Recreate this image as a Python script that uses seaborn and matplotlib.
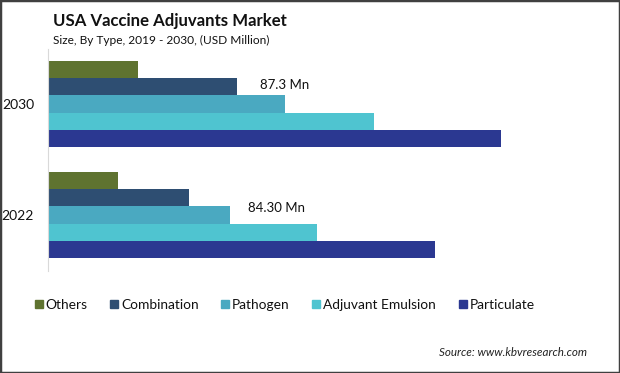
import pandas as pd
import seaborn as sns
import matplotlib.pyplot as plt
from matplotlib.patches import Rectangle

sns.set_theme(style='white')
plt.rcParams['font.family'] = ['Lato', 'DejaVu Sans']

years = ['2030', '2022']
types = ['Others', 'Combination', 'Pathogen', 'Adjuvant Emulsion', 'Particulate']
values_2030 = [41.6, 87.3, 109.5, 151.0, 209.7]
values_2022 = [32.3, 65.1, 84.3, 124.4, 179.2]
colors = ['#5f7330', '#2e4e72', '#4aa9c1', '#4fc4d0', '#2b3891']
labels = {'2030': '87.3 Mn', '2022': '84.30 Mn'}

df = pd.DataFrame({
    'year': [y for y in years for _ in types],
    'type': types * 2,
    'value': values_2030 + values_2022,
})

fig = plt.figure(figsize=(6.2, 3.73), dpi=100)
ax = fig.add_axes([48 / 620, 102.5 / 373, 562 / 620, 222 / 373])
sns.barplot(data=df, y='year', x='value', hue='type', order=years, hue_order=types,
            palette=colors, orient='h', width=0.775, saturation=1, ax=ax, legend=False)
for b in ax.patches:
    b.set_linewidth(0)

ax.set_xlim(0, 260)
ax.set_xlabel('')
ax.set_ylabel('')
ax.set_xticks([])
ax.tick_params(axis='y', length=0, labelsize=10, labelcolor='#111111', pad=10)
for s in ['top', 'right', 'bottom']:
    ax.spines[s].set_visible(False)
ax.spines['left'].set_color('#d9d9d9')
ax.spines['left'].set_linewidth(0.8)

# value callouts
ax.text((260 - 48) / 562, 1 - (85 - 48.5) / 222, labels['2030'], transform=ax.transAxes,
        fontsize=9.5, va='center', ha='left', color='#111111')
ax.text((248 - 48) / 562, 1 - (208 - 48.5) / 222, labels['2022'], transform=ax.transAxes,
        fontsize=9.5, va='center', ha='left', color='#111111')

fig.text(53 / 620, 1 - 21 / 373, 'USA Vaccine Adjuvants Market', fontsize=12.1,
         fontweight='bold', va='center', ha='left', color='#111111')
fig.text(53 / 620, 1 - 40 / 373, 'Size, By Type, 2019 - 2030, (USD Million)', fontsize=8.6,
         va='center', ha='left', color='#111111')

handles = [Rectangle((0, 0), 1, 1, color=c) for c in colors]
fig.legend(handles, types, loc='center left', bbox_to_anchor=(35 / 620, 1 - 305 / 373),
           ncol=5, frameon=False, fontsize=9.9, handlelength=0.58, handleheight=0.58,
           handletextpad=0.2, columnspacing=1.65, borderaxespad=0, borderpad=0,
           labelcolor='#111111')

fig.text(587 / 620, 1 - 353 / 373, 'Source: www.kbvresearch.com', fontsize=8.4,
         style='italic', ha='right', va='center', color='#222222')

fig.patches.append(Rectangle((0, 0), 1, 1, transform=fig.transFigure, fill=False,
                             edgecolor='#404040', linewidth=2.5))

plt.savefig('out.png', dpi=100)
